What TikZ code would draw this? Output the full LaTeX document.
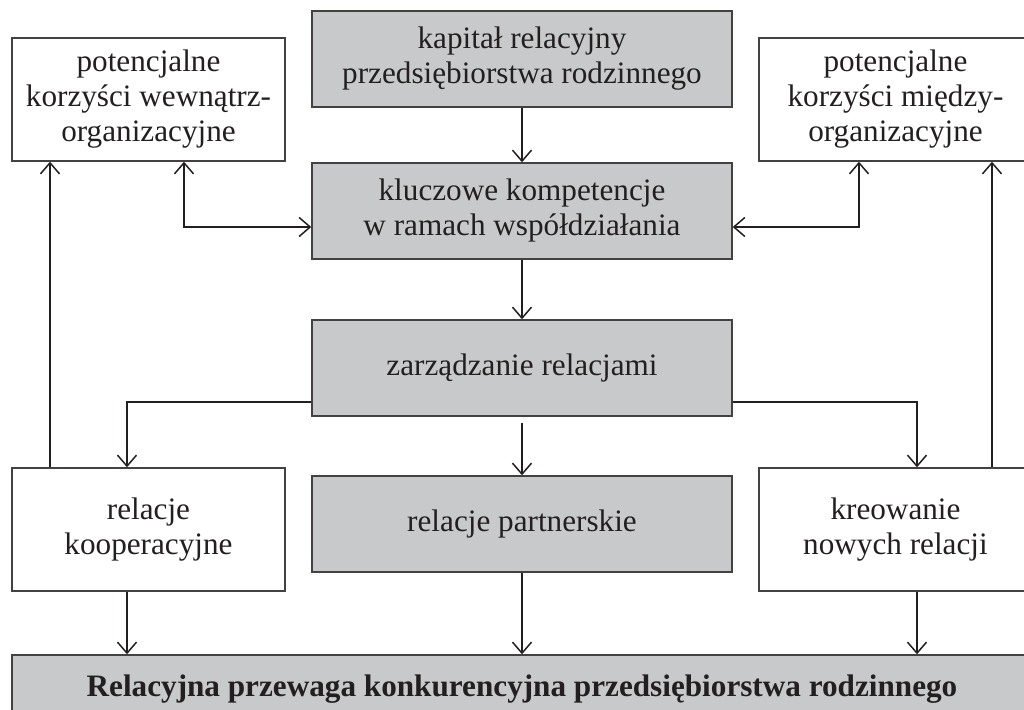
\documentclass[tikz,border=0pt]{standalone}
\usepackage{fontspec}
\setmainfont{Liberation Serif}
\usetikzlibrary{arrows.meta}
\definecolor{boxgray}{RGB}{200,201,203}
\definecolor{ink}{RGB}{35,31,32}
\begin{document}
\begin{tikzpicture}[x=0.5pt,y=-0.5pt,
  box/.style={draw=ink!85,line width=0.7pt,align=center,text=ink,
    font=\fontsize{15.6}{17.5}\selectfont,inner sep=0pt},
  greybox/.style={box,fill=boxgray,minimum width=210pt,minimum height=48pt},
  sidebox/.style={box,fill=white,minimum width=136.5pt,minimum height=61.5pt},
  arr/.style={draw=ink,line width=0.75pt,>={Straight Barb[length=5.5pt,width=9.5pt]}}]
  \clip (0,0) rectangle (1024,710);
  % middle column
  \node[greybox] (kapital) at (522,59) {kapitał relacyjny\\przedsiębiorstwa rodzinnego};
  \node[greybox] (kompetencje) at (522,211) {kluczowe kompetencje\\w ramach współdziałania};
  \node[greybox] (zarzadzanie) at (522,368) {zarządzanie relacjami};
  \node[greybox] (partnerskie) at (522,524) {relacje partnerskie};
  % side boxes
  \node[sidebox] (wewn) at (148.5,99.5) {potencjalne\\korzyści wewnątrz-\\organizacyjne};
  \node[sidebox] (miedzy) at (895.5,99.5) {potencjalne\\korzyści między-\\organizacyjne};
  \node[sidebox] (koop) at (148.5,529.5) {relacje\\kooperacyjne};
  \node[sidebox] (kreow) at (895.5,529.5) {kreowanie\\nowych relacji};
  \node[box,fill=boxgray,minimum width=510pt,minimum height=34pt,
    font=\fontsize{15.6}{17.5}\selectfont\bfseries] (przewaga) at (522,689)
    {Relacyjna przewaga konkurencyjna przedsiębiorstwa rodzinnego};
  % connectors
  \draw[arr,->] (kapital) -- (kompetencje);
  \draw[arr,<->] ([xshift=17.75pt]wewn.south) |- ([yshift=-8pt]kompetencje.west);
  \draw[arr,<->] ([xshift=-18.25pt]miedzy.south) |- ([yshift=-8pt]kompetencje.east);
  \draw[arr,->] (kompetencje) -- (zarzadzanie);
  \draw[arr,->] ([yshift=-17pt]zarzadzanie.west) -| ([xshift=-10.75pt]koop.north);
  \draw[arr,->] ([yshift=-17pt]zarzadzanie.east) -| ([xshift=10.75pt]kreow.north);
  \draw[arr,->] ([yshift=-3pt]zarzadzanie.south) -- (partnerskie);
  \draw[arr,->] ([xshift=-49.25pt]koop.north) -- ([xshift=-49.25pt]wewn.south);
  \draw[arr,->] ([xshift=48.25pt]kreow.north) -- ([xshift=48.25pt]miedzy.south);
  \draw[arr,->] ([xshift=-10.75pt]koop.south) -- ([xshift=-10.75pt]koop.south |- przewaga.north);
  \draw[arr,->] (partnerskie) -- (przewaga);
  \draw[arr,->] ([xshift=10.75pt]kreow.south) -- ([xshift=10.75pt]kreow.south |- przewaga.north);
\end{tikzpicture}
\end{document}
